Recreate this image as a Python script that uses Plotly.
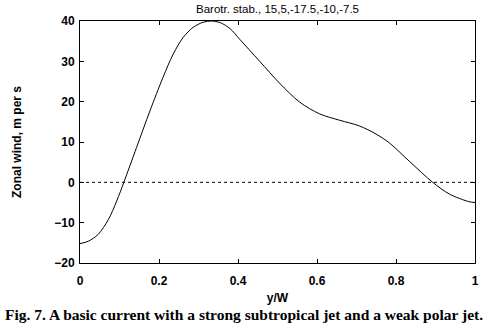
import plotly.graph_objects as go

# Data
y_over_w = [0.0, 0.021, 0.046, 0.072, 0.093, 0.111, 0.143, 0.177, 0.210, 0.236,
            0.261, 0.286, 0.312, 0.333, 0.355, 0.380, 0.404, 0.455, 0.505, 0.556,
            0.606, 0.657, 0.707, 0.749, 0.783, 0.834, 0.893, 0.935, 0.985, 1.0]
zonal_wind = [-15.2, -14.6, -12.9, -9.2, -4.6, 0.0, 8.6, 17.7, 26.0, 31.8,
              35.9, 38.4, 39.7, 40.0, 39.6, 38.1, 35.5, 30.0, 24.6, 19.9,
              17.0, 15.4, 14.0, 12.0, 9.8, 5.2, 0.0, -2.9, -4.8, -5.0]
x_ticks = [0, 0.2, 0.4, 0.6, 0.8, 1]
x_tick_labels = ["0", "0.2", "0.4", "0.6", "0.8", "1"]
y_ticks = [-20, -10, 0, 10, 20, 30, 40]

title_text = "Barotr. stab., 15,5,-17.5,-10,-7.5"
caption_text = "Fig. 7. A basic current with a strong subtropical jet and a weak polar jet."

fig = go.Figure()
fig.add_trace(go.Scatter(
    x=y_over_w, y=zonal_wind, mode="lines",
    line=dict(color="black", width=1, shape="spline", smoothing=0.9),
    showlegend=False, hoverinfo="skip"))

fig.add_hline(y=0, line=dict(color="black", width=1, dash="dot"))

sans = "Liberation Sans, Arial, sans-serif"

fig.update_layout(
    width=489, height=334,
    margin=dict(l=80, r=14, t=21, b=71),
    paper_bgcolor="white", plot_bgcolor="white",
    font=dict(family=sans, size=12, color="black"),
    xaxis=dict(range=[0, 1], tickvals=x_ticks, ticktext=x_tick_labels,
               showline=True, linecolor="black", linewidth=1, mirror="ticks",
               ticks="inside", ticklen=4, tickcolor="black", showgrid=False,
               zeroline=False, automargin=False, ticklabelstandoff=7,
               tickfont=dict(size=12, family=sans, weight="bold"),
               title=dict(text="y/W", font=dict(size=12, family=sans, weight="bold"), standoff=6)),
    yaxis=dict(range=[-20, 40], tickvals=y_ticks,
               showline=True, linecolor="black", linewidth=1, mirror="ticks",
               ticks="inside", ticklen=4, tickcolor="black", showgrid=False,
               zeroline=False, automargin=False, ticklabelstandoff=2,
               tickfont=dict(size=12, family=sans, weight="bold"),
               title=dict(text="Zonal wind, m per s", font=dict(size=12, family=sans, weight="bold"), standoff=30)),
)

fig.add_annotation(text=title_text, xref="paper", yref="paper", x=0.5, y=1,
                   yshift=4, yanchor="bottom", xanchor="center", showarrow=False,
                   font=dict(size=11.5, family=sans, color="black"))
fig.add_annotation(text="<b>" + caption_text + "</b>", xref="paper", yref="paper",
                   x=-77/395, xanchor="left", y=-51/242, yanchor="middle",
                   showarrow=False,
                   font=dict(size=15.5, family="Liberation Serif, serif", color="black"))

fig.write_html("out.html", config={"displayModeBar": False},
               post_script="document.body.style.margin='0';")
